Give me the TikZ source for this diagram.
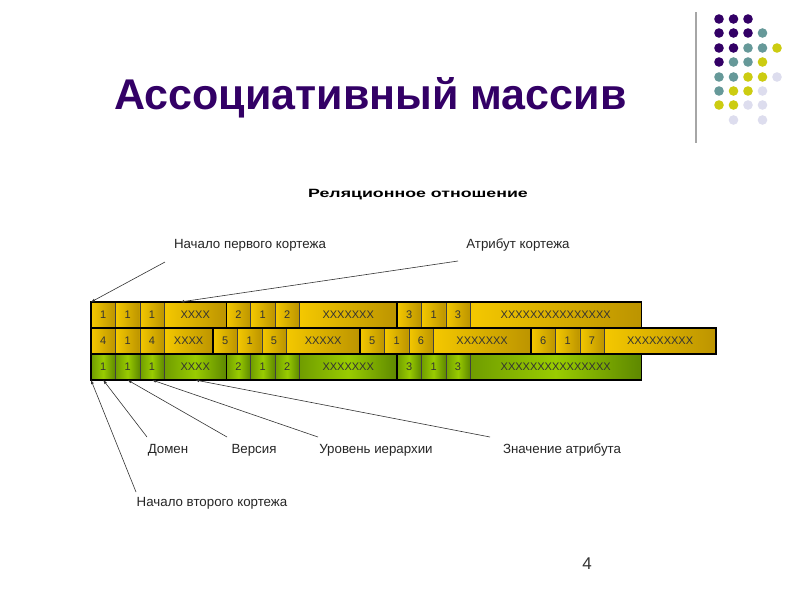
\documentclass[tikz,border=0pt]{standalone}
\usepackage{fontspec}
\usepackage{graphicx}
\setmainfont{Liberation Sans}
\usetikzlibrary{arrows.meta,positioning}
\definecolor{titlepurple}{HTML}{330066}
\definecolor{dotpurple}{HTML}{330066}
\definecolor{dotteal}{HTML}{669999}
\definecolor{dotyellow}{HTML}{CCCC11}
\definecolor{dotlilac}{HTML}{DDDDEE}
\definecolor{goldlight}{HTML}{F4C800}
\definecolor{golddark}{HTML}{BC9400}
\definecolor{greenlight}{HTML}{99CC00}
\definecolor{greendark}{HTML}{5E8800}

\begin{document}
\begin{tikzpicture}[x=1pt,y=-1pt,node distance=0pt,
  cell/.style={draw=black!75,line width=0.4pt,minimum width=#1,minimum height=26pt,inner sep=0pt,outer sep=0pt,font=\fontsize{11}{12}\selectfont,text=black!80},
  yc/.style={cell=#1,left color=goldlight,right color=golddark},
  gc/.style={cell=#1,left color=greendark!70!greenlight,right color=greendark,middle color=greenlight},
  grp/.style={draw=black,line width=1.3pt},
  lbl/.style={font=\fontsize{13.3}{15}\selectfont,text=black!85,inner sep=0pt},
  >={Latex[length=4pt,width=3pt]}]
\useasboundingbox[fill=white] (0,0) rectangle (800,600);

% title and slide decoration
\node[anchor=base west,font=\fontsize{43}{50}\selectfont\bfseries,text=titlepurple,inner sep=0pt] (title) at (114,109) {Ассоциативный массив};
\draw[gray!70,line width=2pt] (696,12) -- (696,143);
\fill[dotpurple] (719,19) circle (4.8) (733.5,19) circle (4.8) (748,19) circle (4.8) (719,33) circle (4.8) (733.5,33) circle (4.8) (748,33) circle (4.8) (719,48) circle (4.8) (733.5,48) circle (4.8) (719,62) circle (4.8);
\fill[dotteal] (762.5,33) circle (4.8) (748,48) circle (4.8) (762.5,48) circle (4.8) (733.5,62) circle (4.8) (748,62) circle (4.8) (719,77) circle (4.8) (733.5,77) circle (4.8) (719,91) circle (4.8);
\fill[dotyellow] (777,48) circle (4.8) (762.5,62) circle (4.8) (748,77) circle (4.8) (762.5,77) circle (4.8) (733.5,91) circle (4.8) (748,91) circle (4.8) (719,105) circle (4.8) (733.5,105) circle (4.8);
\fill[dotlilac] (777,77) circle (4.8) (762.5,91) circle (4.8) (748,105) circle (4.8) (762.5,105) circle (4.8) (733.5,120) circle (4.8) (762.5,120) circle (4.8);
\node[font=\fontsize{12}{14}\selectfont\bfseries] (rel) at (418,195) {\scalebox{1.48}[1]{Реляционное отношение}};

% first tuple
\node[yc=24.4pt,anchor=north west] (a1) at (91,302) {1};
\node[yc=24.4pt,right=of a1] (a2) {1};
\node[yc=24.4pt,right=of a2] (a3) {1};
\node[yc=62pt,right=of a3] (a4) {XXXX};
\node[yc=24.4pt,right=of a4] (a5) {2};
\node[yc=24.4pt,right=of a5] (a6) {1};
\node[yc=24.4pt,right=of a6] (a7) {2};
\node[yc=97.6pt,right=of a7] (a8) {XXXXXXX};
\node[yc=24.4pt,right=of a8] (a9) {3};
\node[yc=24.4pt,right=of a9] (a10) {1};
\node[yc=24.4pt,right=of a10] (a11) {3};
\node[yc=171pt,right=of a11] (a12) {XXXXXXXXXXXXXXX};

% middle row
\node[yc=24.4pt,below=of a1] (b1) {4};
\node[yc=24.4pt,right=of b1] (b2) {1};
\node[yc=24.4pt,right=of b2] (b3) {4};
\node[yc=48.8pt,right=of b3] (b4) {XXXX};
\node[yc=24.4pt,right=of b4] (b5) {5};
\node[yc=24.4pt,right=of b5] (b6) {1};
\node[yc=24.4pt,right=of b6] (b7) {5};
\node[yc=73.8pt,right=of b7] (b8) {XXXXX};
\node[yc=24.4pt,right=of b8] (b9) {5};
\node[yc=24.4pt,right=of b9] (b10) {1};
\node[yc=24.4pt,right=of b10] (b11) {6};
\node[yc=97.8pt,right=of b11] (b12) {XXXXXXX};
\node[yc=24.4pt,right=of b12] (b13) {6};
\node[yc=24.4pt,right=of b13] (b14) {1};
\node[yc=24.4pt,right=of b14] (b15) {7};
\node[yc=111.8pt,right=of b15] (b16) {XXXXXXXXX};

% second tuple
\node[gc=24.4pt,below=of b1] (c1) {1};
\node[gc=24.4pt,right=of c1] (c2) {1};
\node[gc=24.4pt,right=of c2] (c3) {1};
\node[gc=62pt,right=of c3] (c4) {XXXX};
\node[gc=24.4pt,right=of c4] (c5) {2};
\node[gc=24.4pt,right=of c5] (c6) {1};
\node[gc=24.4pt,right=of c6] (c7) {2};
\node[gc=97.6pt,right=of c7] (c8) {XXXXXXX};
\node[gc=24.4pt,right=of c8] (c9) {3};
\node[gc=24.4pt,right=of c9] (c10) {1};
\node[gc=24.4pt,right=of c10] (c11) {3};
\node[gc=171pt,right=of c11] (c12) {XXXXXXXXXXXXXXX};

% attribute frames
\draw[grp] (a1.north west) rectangle (a4.south east) (a5.north west) rectangle (a8.south east) (a9.north west) rectangle (a12.south east);
\draw[grp] (b1.north west) rectangle (b4.south east) (b5.north west) rectangle (b8.south east) (b9.north west) rectangle (b12.south east) (b13.north west) rectangle (b16.south east);
\draw[grp] (c1.north west) rectangle (c4.south east) (c5.north west) rectangle (c8.south east) (c9.north west) rectangle (c12.south east);

% labels
\node[lbl] (tuple1) at (250,245) {Начало первого кортежа};
\node[lbl] (attr) at (518,245) {Атрибут кортежа};
\node[lbl] (dom) at (168,450) {Домен};
\node[lbl] (ver) at (254,450) {Версия};
\node[lbl] (lev) at (376,450) {Уровень иерархии};
\node[lbl] (val) at (562,450) {Значение атрибута};
\node[lbl] (tuple2) at (212,503) {Начало второго кортежа};
\node[font=\fontsize{17}{20}\selectfont,text=black!80] (page) at (587,564) {4};

\coordinate (t1) at (165,262);
\coordinate (at) at (458,261);
\coordinate (t2) at (136,492);
\coordinate (dm) at (147,437);
\coordinate (vr) at (227,437);
\coordinate (lv) at (318,437);
\coordinate (vl) at (490,437);
\draw[->,black!80,line width=0.6pt] (t1) -- (a1.north west);
\draw[->,black!80,line width=0.6pt] (at) -- ([xshift=-15pt]a4.north);
\draw[->,black!80,line width=0.6pt] (t2) -- (c1.south west);
\draw[->,black!80,line width=0.6pt] (dm) -- (c1.south);
\draw[->,black!80,line width=0.6pt] (vr) -- (c2.south);
\draw[->,black!80,line width=0.6pt] (lv) -- (c3.south);
\draw[->,black!80,line width=0.6pt] (vl) -- (c4.south);
\end{tikzpicture}
\end{document}
